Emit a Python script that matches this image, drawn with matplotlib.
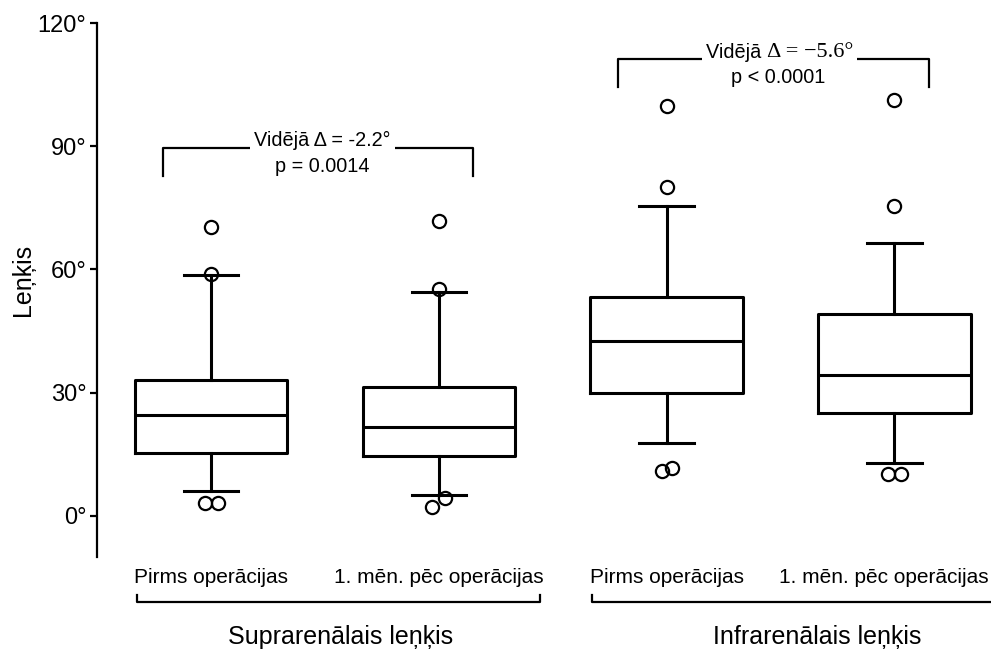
import numpy as np
import matplotlib.pyplot as plt

plt.rcParams['font.family'] = ['Liberation Sans', 'DejaVu Sans']

# box statistics, degrees
groups = ["Suprarenālais leņķis", "Infrarenālais leņķis"]
timepoints = ["Pirms operācijas", "1. mēn. pēc operācijas"]
q1 = [15.2, 14.5, 30.0, 25.0]
median = [24.5, 21.6, 42.5, 34.4]
q3 = [33.1, 31.4, 53.4, 49.2]
whisker_low = [5.9, 5.1, 17.7, 12.8]
whisker_high = [58.6, 54.6, 75.5, 66.5]
outliers = [
    [70.3, 59.0, 3.2, 3.2],
    [71.7, 55.3, 4.3, 2.1],
    [99.9, 80.2, 10.9, 11.7],
    [101.3, 75.4, 10.1, 10.1],
]
mean_diff = ["-2.2°", "−5.6°"]
p_text = ["p = 0.0014", "p < 0.0001"]
yticks = [0, 30, 60, 90, 120]

# small sideways shifts so overlapping outliers stay visible
outlier_dx = [
    [0, 0, -0.025, 0.028],
    [0, 0, 0.026, -0.028],
    [0, 0, -0.022, 0.026],
    [0, 0, -0.029, 0.029],
]

pos = np.arange(1, len(median) + 1)
lw = 2.2

fig = plt.figure(figsize=(9.91, 6.51), dpi=100)
ax = fig.add_axes([0.0982, 0.1449, 0.9018, 0.8193])

stats = []
for i in range(len(median)):
    stats.append(dict(med=median[i], q1=q1[i], q3=q3[i],
                      whislo=whisker_low[i], whishi=whisker_high[i], fliers=[]))

line = dict(color='black', linewidth=lw, solid_capstyle='projecting')
ax.bxp(stats, positions=pos, widths=0.67, capwidths=0.24, showfliers=False,
       boxprops=dict(color='black', linewidth=lw),
       medianprops=dict(color='black', linewidth=lw),
       whiskerprops=line, capprops=line)

for i in range(len(median)):
    xs = pos[i] + np.array(outlier_dx[i])
    ax.plot(xs, outliers[i], 'o', ms=9.5, mfc='none', mec='black', mew=1.6, clip_on=False)

ax.set_xlim(0.5, 4.425)
ax.set_ylim(-10, 120)
for s in ['top', 'right', 'bottom']:
    ax.spines[s].set_visible(False)
ax.spines['left'].set_linewidth(1.6)
ax.set_yticks(yticks, [f"{t}°" for t in yticks])
ax.tick_params(axis='y', length=5, width=1.6, labelsize=17, pad=3)
ax.set_xticks([])

fig.text(23 / 991, 1 - 280 / 651, "Leņķis", rotation=90, ha='center', va='center', fontsize=18)

# category labels and group brackets under the axis
for i, p in enumerate(pos):
    if i == len(pos) - 1:
        # keep the last label inside the right edge
        ax.text(0.997, -15.0, timepoints[i % 2], ha='right', va='center', fontsize=15,
                transform=ax.get_yaxis_transform(), clip_on=False)
    else:
        ax.text(p, -15.0, timepoints[i % 2], ha='center', va='center', fontsize=15, clip_on=False)

group_x = [1.57, 3.66]
for g in range(len(groups)):
    left = pos[2 * g] - 0.326
    right = pos[2 * g + 1] + 0.444
    ax.plot([left, left, right, right], [-19.3, -21.0, -21.0, -19.3],
            color='black', lw=1.6, clip_on=False)
    ax.text(group_x[g], -29.6, groups[g], ha='center', va='center', fontsize=18)

# significance brackets
brk_y = [89.6, 111.2]
for g in range(len(groups)):
    left = pos[2 * g] - 0.212
    right = pos[2 * g + 1] + 0.152
    y = brk_y[g]
    ax.plot([left, left, right, right], [y - 6.8, y, y, y - 6.8],
            color='black', lw=1.6, clip_on=False)
    cx = (left + right) / 2 + 0.02
    box = dict(facecolor='white', edgecolor='none', pad=3)
    if g == 0:
        ax.text(cx, y + 1.8, f"Vidējā Δ = {mean_diff[g]}", ha='center', va='center',
                fontsize=14.3, bbox=box)
    else:
        ax.text(cx - 0.05, y + 1.8, "Vidējā ", ha='right', va='center',
                fontsize=14.3, bbox=box)
        ax.text(cx - 0.05, y + 1.8, f"Δ = {mean_diff[g]}", ha='left', va='center',
                fontsize=16, family=['Liberation Serif', 'DejaVu Serif'], bbox=box)
    ax.text(cx, y - 4.5, p_text[g], ha='center', va='center', fontsize=14.3)

fig.savefig("out.png", dpi=100)
